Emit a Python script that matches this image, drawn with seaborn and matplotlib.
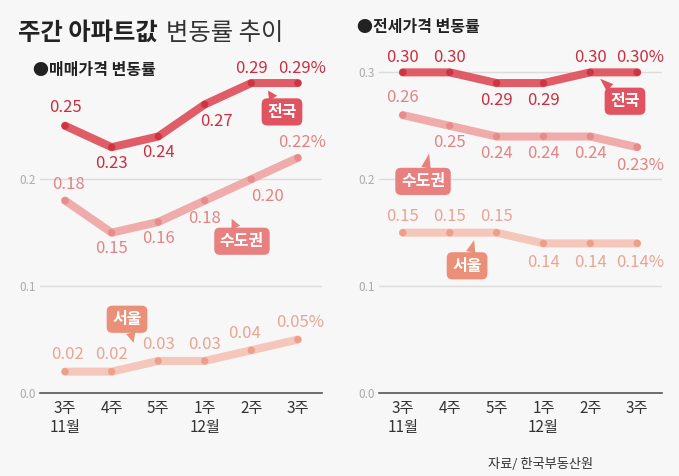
import matplotlib.pyplot as plt
import seaborn as sns
import pandas as pd
import numpy as np

weeks = ['3주\n11월', '4주', '5주', '1주\n12월', '2주', '3주']
series = ['전국', '수도권', '서울']

# 매매가격 변동률
sale_nation = [0.25, 0.23, 0.24, 0.27, 0.29, 0.29]
sale_capital = [0.18, 0.15, 0.16, 0.18, 0.20, 0.22]
sale_seoul = [0.02, 0.02, 0.03, 0.03, 0.04, 0.05]

# 전세가격 변동률
rent_nation = [0.30, 0.30, 0.29, 0.29, 0.30, 0.30]
rent_capital = [0.26, 0.25, 0.24, 0.24, 0.24, 0.23]
rent_seoul = [0.15, 0.15, 0.15, 0.14, 0.14, 0.14]

line_colors = {'전국': '#de4b57', '수도권': '#f0a3a3', '서울': '#f5c2b4'}
dot_colors = {'전국': '#cf3443', '수도권': '#e88b8b', '서울': '#ee9e8a'}
text_colors = {'전국': '#c92f3f', '수도권': '#e28484', '서울': '#e9a493'}
box_colors = {'전국': '#e05361', '수도권': '#e98080', '서울': '#ea8f78'}

# label offsets (pixels) per point
sale_offsets = {
    '전국': [(0, 18), (0, -16), (0, -16), (12, -17), (0, 15), (4, 15)],
    '수도권': [(3, 16), (0, -16), (0, -16), (0, -18), (16, -17), (4, 15)],
    '서울': [(2, 17), (0, 17), (0, 16), (0, 16), (-7, 17), (2, 17)],
}
rent_offsets = {
    '전국': [(0, 15), (0, 15), (0, -17), (0, -17), (0, 15), (3, 15)],
    '수도권': [(0, 18), (0, -17), (0, -17), (0, -17), (0, -17), (3, -18)],
    '서울': [(0, 16), (0, 16), (0, 16), (0, -19), (0, -19), (3, -19)],
}
# name boxes: (box x, box y, tip x, tip y) in data units
sale_boxes = {
    '전국': (4.66, 0.263, 4.36, 0.283),
    '수도권': (3.80, 0.142, 3.58, 0.163),
    '서울': (1.33, 0.069, 1.47, 0.047),
}
rent_boxes = {
    '전국': (4.74, 0.273, 4.21, 0.294),
    '수도권': (0.43, 0.198, 0.56, 0.224),
    '서울': (1.37, 0.119, 1.52, 0.143),
}

sns.set_style('white')
plt.rcParams['font.family'] = ['Noto Sans CJK KR', 'DejaVu Sans']

fig = plt.figure(figsize=(6.79, 4.76), dpi=100, facecolor='#f7f7f7')


def draw_panel(ax, values, offsets, boxes, yticks, xlim):
    df = pd.DataFrame({
        'x': np.tile(np.arange(len(weeks)), len(series)),
        'value': np.concatenate([values[s] for s in series]),
        'series': np.repeat(series, len(weeks)),
    })
    ax.set_facecolor('#f7f7f7')
    for y in yticks[1:]:
        ax.axhline(y, color='#dcdcdc', lw=1, zorder=0)
    sns.lineplot(data=df, x='x', y='value', hue='series', palette=line_colors,
                 linewidth=5.8, legend=False, ax=ax, alpha=0.9)
    for line in ax.lines:
        line.set_solid_capstyle('round')
        line.set_solid_joinstyle('round')
    sns.scatterplot(data=df, x='x', y='value', hue='series', palette=dot_colors,
                    s=28, linewidth=0, legend=False, ax=ax, zorder=5)
    for s in series:
        n = len(values[s])
        for i, v in enumerate(values[s]):
            txt = f'{v:.2f}' + ('%' if i == n - 1 else '')
            dx, dy = offsets[s][i]
            ax.annotate(txt, (i, v), xytext=(dx, dy), textcoords='offset pixels',
                        ha='center', va='center', fontsize=12,
                        color=text_colors[s])
        bx, by, tx, ty = boxes[s]
        ax.annotate(s, xy=(tx, ty), xytext=(bx, by), ha='center', va='center',
                    fontsize=11.5, fontweight='bold', color='white',
                    bbox=dict(boxstyle='round,pad=0.35,rounding_size=0.35',
                              fc=box_colors[s], ec='none'),
                    arrowprops=dict(arrowstyle='wedge,tail_width=0.6',
                                    fc=box_colors[s], ec='none', shrinkA=0,
                                    shrinkB=0),
                    zorder=6)
    ax.set_xlim(*xlim)
    ax.set_ylim(0, 0.32)
    ax.set_xticks(range(len(weeks)))
    ax.set_xticklabels(weeks, fontsize=11, color='#333333', linespacing=1.15)
    ax.set_yticks(yticks)
    ax.set_yticklabels([f'{t:.1f}' for t in yticks], fontsize=8.5, color='#aaaaaa')
    ax.tick_params(axis='y', length=0, pad=3)
    ax.tick_params(axis='x', direction='in', length=6, width=1.2,
                   color='#555555', pad=5)
    ax.set_xlabel('')
    ax.set_ylabel('')
    for side in ['top', 'right', 'left']:
        ax.spines[side].set_visible(False)
    ax.spines['bottom'].set_color('#555555')
    ax.spines['bottom'].set_linewidth(1.2)


ax1 = fig.add_axes([40 / 679, 83 / 476, 282 / 679, 342 / 476])
draw_panel(ax1, {'전국': sale_nation, '수도권': sale_capital, '서울': sale_seoul},
           sale_offsets, sale_boxes, [0.0, 0.1, 0.2], (-0.54, 5.52))

ax2 = fig.add_axes([379 / 679, 83 / 476, 283 / 679, 342 / 476])
draw_panel(ax2, {'전국': rent_nation, '수도권': rent_capital, '서울': rent_seoul},
           rent_offsets, rent_boxes, [0.0, 0.1, 0.2, 0.3], (-0.51, 5.53))

fig.text(18 / 679, 1 - 33 / 476, '주간 아파트값', fontsize=17.5, fontweight='bold',
         color='#222222', va='center')
fig.text(166 / 679, 1 - 33 / 476, '변동률 추이', fontsize=17.5, color='#333333',
         va='center')
fig.text(33 / 679, 1 - 70 / 476, '●매매가격 변동률', fontsize=11.5,
         fontweight='bold', color='#222222', va='center')
fig.text(357 / 679, 1 - 27 / 476, '●전세가격 변동률', fontsize=11.5,
         fontweight='bold', color='#222222', va='center')
fig.text(541 / 679, 1 - 464 / 476, '자료/ 한국부동산원', fontsize=9.5,
         color='#333333', va='center', ha='center', style='italic')

fig.savefig('out.png', dpi=100, facecolor=fig.get_facecolor())
